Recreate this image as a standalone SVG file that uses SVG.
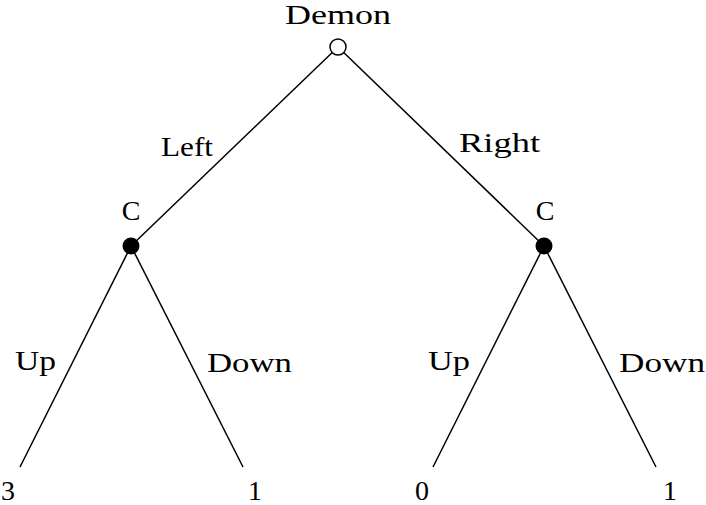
<svg xmlns="http://www.w3.org/2000/svg" width="706" height="505" viewBox="0 0 706 505">
<style>
text{font-family:"Liberation Serif","DejaVu Serif",serif;font-size:28px;fill:#000}
.e{stroke:#000;stroke-width:1.5;fill:none}
</style>
<rect width="706" height="505" fill="#fff"/>
<g id="connectors">
<line class="e" x1="338" y1="47" x2="131" y2="246"/>
<line class="e" x1="338" y1="47" x2="544" y2="246"/>
<line class="e" x1="131" y1="246" x2="20" y2="467"/>
<line class="e" x1="131" y1="246" x2="243" y2="467"/>
<line class="e" x1="544" y1="246" x2="433" y2="467"/>
<line class="e" x1="544" y1="246" x2="656" y2="467"/>
<text x="161" y="156" textLength="52" lengthAdjust="spacingAndGlyphs">Left</text>
<text x="459" y="152" textLength="81" lengthAdjust="spacingAndGlyphs">Right</text>
<text x="15" y="370" textLength="41" lengthAdjust="spacingAndGlyphs">Up</text>
<text x="207" y="372" textLength="85" lengthAdjust="spacingAndGlyphs">Down</text>
<text x="428" y="370" textLength="42" lengthAdjust="spacingAndGlyphs">Up</text>
<text x="619" y="372" textLength="86" lengthAdjust="spacingAndGlyphs">Down</text>
</g>
<g id="root">
<circle cx="338" cy="47" r="8" fill="#fff" stroke="#000" stroke-width="1.5"/>
<text x="285" y="24" textLength="106" lengthAdjust="spacingAndGlyphs">Demon</text>
</g>
<g id="c-left">
<circle cx="131" cy="246" r="8.5" fill="#000"/>
<text x="131" y="220" text-anchor="middle">C</text>
</g>
<g id="c-right">
<circle cx="544" cy="246" r="8.5" fill="#000"/>
<text x="545" y="220" text-anchor="middle">C</text>
</g>
<g id="leaf-3"><text x="8" y="500" text-anchor="middle">3</text></g>
<g id="leaf-1a"><text x="255" y="500" text-anchor="middle">1</text></g>
<g id="leaf-0"><text x="422" y="500" text-anchor="middle">0</text></g>
<g id="leaf-1b"><text x="670" y="500" text-anchor="middle">1</text></g>
</svg>
